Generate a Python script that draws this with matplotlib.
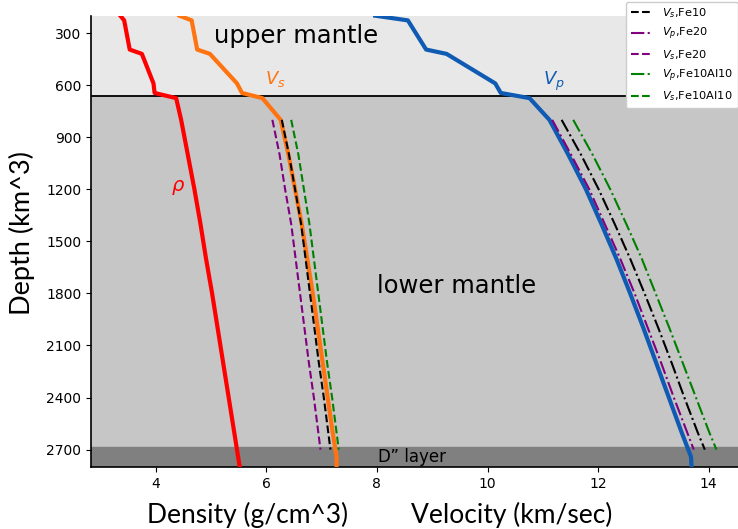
import matplotlib
matplotlib.use("Agg")
import matplotlib.pyplot as plt

# ---------------- data ----------------
depth_main = [200, 227, 395, 420, 590, 645, 675, 800, 1000, 1200, 1400, 1600,
              1800, 2000, 2200, 2400, 2600, 2741, 2800]
rho = [3.36, 3.43, 3.53, 3.75, 3.96, 3.98, 4.37, 4.46, 4.58, 4.70, 4.81, 4.91,
       5.02, 5.12, 5.22, 5.32, 5.42, 5.49, 5.52]
vs = [4.43, 4.65, 4.75, 4.98, 5.47, 5.56, 5.93, 6.26, 6.40, 6.52, 6.64, 6.74,
      6.84, 6.93, 7.02, 7.11, 7.20, 7.27, 7.27]
vp = [7.97, 8.56, 8.89, 9.26, 10.14, 10.24, 10.76, 11.12, 11.46, 11.78, 12.06,
      12.33, 12.58, 12.82, 13.05, 13.28, 13.51, 13.68, 13.69]

depth_lm = [800, 1000, 1200, 1400, 1600, 1800, 2000, 2200, 2400, 2600, 2700]
vp_fe10 = [11.34, 11.69, 12.01, 12.30, 12.58, 12.84, 13.09, 13.33, 13.56, 13.80, 13.93]
vs_fe10 = [6.28, 6.41, 6.52, 6.63, 6.71, 6.79, 6.87, 6.95, 7.04, 7.12, 7.16]
vp_fe20 = [11.17, 11.51, 11.84, 12.12, 12.40, 12.66, 12.90, 13.14, 13.37, 13.61, 13.73]
vs_fe20 = [6.11, 6.24, 6.34, 6.45, 6.53, 6.61, 6.69, 6.77, 6.86, 6.94, 6.98]
vp_fe10al10 = [11.55, 11.90, 12.22, 12.51, 12.79, 13.04, 13.29, 13.53, 13.77, 14.01, 14.14]
vs_fe10al10 = [6.45, 6.58, 6.68, 6.78, 6.86, 6.94, 7.02, 7.10, 7.19, 7.27, 7.31]

yticks = [300, 600, 900, 1200, 1500, 1800, 2100, 2400, 2700]
xticks = [4, 6, 8, 10, 12, 14]

# ---------------- figure ----------------
fig = plt.figure(figsize=(7.38, 5.29), dpi=100)
ax = fig.add_axes([91/738, 1-467/529, (764-91)/738, (467-15.7)/529])
ax.set_xlim(2.83, 15)
ax.set_ylim(2800, 200)

# layer backgrounds
ax.axhspan(200, 660, color="#e8e8e8", zorder=0)
ax.axhspan(660, 2685, color="#c6c6c6", zorder=0)
ax.axhspan(2685, 2800, color="#808080", zorder=0)
ax.axhline(660, color="black", lw=1.3, zorder=1)

# main profiles
ax.plot(rho, depth_main, color="#ff0000", lw=3, zorder=3)
ax.plot(vs, depth_main, color="#ff7410", lw=3, zorder=3)
ax.plot(vp, depth_main, color="#0f5bb3", lw=3, zorder=3)

# mineral models
l1, = ax.plot(vp_fe10, depth_lm, color="black", ls="-.", lw=1.5, zorder=4)
l2, = ax.plot(vs_fe10, depth_lm, color="black", ls="--", lw=1.5, zorder=4)
l3, = ax.plot(vp_fe20, depth_lm, color="purple", ls="-.", lw=1.5, zorder=4)
l4, = ax.plot(vs_fe20, depth_lm, color="purple", ls="--", lw=1.5, zorder=4)
l5, = ax.plot(vp_fe10al10, depth_lm, color="green", ls="-.", lw=1.5, zorder=4)
l6, = ax.plot(vs_fe10al10, depth_lm, color="green", ls="--", lw=1.5, zorder=4)

# annotations
ax.text(6.53, 359, "upper mantle", fontsize=17.5, ha="center", va="baseline", zorder=5)
ax.text(9.44, 1795, "lower mantle", fontsize=17.5, ha="center", va="baseline", zorder=5)
ax.text(8.63, 2743, "D\u201d layer", fontsize=12, ha="center", va="center", zorder=5)
ax.text(4.40, 1187, r"$\rho$", color="#ff0000", fontsize=14, ha="center", va="center")
ax.text(6.17, 566, r"$V_s$", color="#ff7410", fontsize=13, ha="center", va="center")
ax.text(11.2, 578, r"$V_p$", color="#0f5bb3", fontsize=13, ha="center", va="center")

ax.set_xticks(xticks)
ax.set_yticks(yticks)
ax.tick_params(labelsize=10)
for s in ["left", "bottom"]:
    ax.spines[s].set_linewidth(1.2)
ax.spines["top"].set_visible(False)
ax.spines["right"].set_visible(False)

leg = fig.legend([l2, l3, l4, l5, l6],
                 [r"$V_s$,Fe10", r"$V_p$,Fe20", r"$V_s$,Fe20",
                  r"$V_p$,Fe10Al10", r"$V_s$,Fe10Al10"],
                 loc="lower left", bbox_to_anchor=(626/738, 1-108/529),
                 fontsize=8.2, framealpha=1, fancybox=True, borderaxespad=0)

fig.text(248/738, 1-515/529, "Density (g/cm^3)", fontsize=19, family="Lato",
         ha="center", va="center")
fig.text(512/738, 1-515/529, "Velocity (km/sec)", fontsize=19, family="Lato",
         ha="center", va="center")
fig.text(22/738, 1-233/529, "Depth (km^3)", fontsize=19.5, family="Lato",
         ha="center", va="center", rotation=90)

fig.savefig("out.png", dpi=100)
